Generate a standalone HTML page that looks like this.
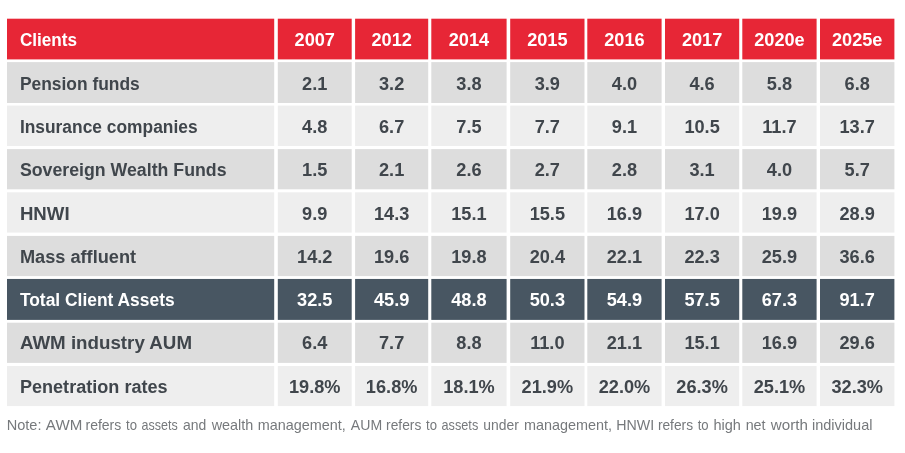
<!DOCTYPE html>
<html lang="en"><head><meta charset="utf-8">
<title>Client assets table</title>
<style>
html,body{margin:0;padding:0;background:#fff;}
body{width:905px;height:453px;overflow:hidden;}
svg{display:block;will-change:transform;}
text{font-family:"Liberation Sans",sans-serif;}
.b{font-weight:700;font-size:18.0px;}
.n{font-weight:400;font-size:14.5px;fill:#76797c;}
</style></head><body>
<svg width="905" height="453" viewBox="0 0 905 453">
<rect x="0" y="0" width="905" height="453" fill="#ffffff"/>
<g fill="#e72636">
<rect x="7.00" y="18.70" width="267.20" height="40.70"/>
<rect x="277.80" y="18.70" width="73.90" height="40.70"/>
<rect x="355.10" y="18.70" width="73.10" height="40.70"/>
<rect x="431.30" y="18.70" width="75.30" height="40.70"/>
<rect x="510.20" y="18.70" width="74.30" height="40.70"/>
<rect x="587.30" y="18.70" width="74.30" height="40.70"/>
<rect x="665.00" y="18.70" width="74.20" height="40.70"/>
<rect x="742.30" y="18.70" width="74.30" height="40.70"/>
<rect x="820.00" y="18.70" width="74.40" height="40.70"/>
</g>
<g fill="#dddddd">
<rect x="7.00" y="62.10" width="267.20" height="40.90"/>
<rect x="277.80" y="62.10" width="73.90" height="40.90"/>
<rect x="355.10" y="62.10" width="73.10" height="40.90"/>
<rect x="431.30" y="62.10" width="75.30" height="40.90"/>
<rect x="510.20" y="62.10" width="74.30" height="40.90"/>
<rect x="587.30" y="62.10" width="74.30" height="40.90"/>
<rect x="665.00" y="62.10" width="74.20" height="40.90"/>
<rect x="742.30" y="62.10" width="74.30" height="40.90"/>
<rect x="820.00" y="62.10" width="74.40" height="40.90"/>
</g>
<g fill="#eeeeee">
<rect x="7.00" y="105.60" width="267.20" height="40.40"/>
<rect x="277.80" y="105.60" width="73.90" height="40.40"/>
<rect x="355.10" y="105.60" width="73.10" height="40.40"/>
<rect x="431.30" y="105.60" width="75.30" height="40.40"/>
<rect x="510.20" y="105.60" width="74.30" height="40.40"/>
<rect x="587.30" y="105.60" width="74.30" height="40.40"/>
<rect x="665.00" y="105.60" width="74.20" height="40.40"/>
<rect x="742.30" y="105.60" width="74.30" height="40.40"/>
<rect x="820.00" y="105.60" width="74.40" height="40.40"/>
</g>
<g fill="#dddddd">
<rect x="7.00" y="149.10" width="267.20" height="40.20"/>
<rect x="277.80" y="149.10" width="73.90" height="40.20"/>
<rect x="355.10" y="149.10" width="73.10" height="40.20"/>
<rect x="431.30" y="149.10" width="75.30" height="40.20"/>
<rect x="510.20" y="149.10" width="74.30" height="40.20"/>
<rect x="587.30" y="149.10" width="74.30" height="40.20"/>
<rect x="665.00" y="149.10" width="74.20" height="40.20"/>
<rect x="742.30" y="149.10" width="74.30" height="40.20"/>
<rect x="820.00" y="149.10" width="74.40" height="40.20"/>
</g>
<g fill="#eeeeee">
<rect x="7.00" y="192.30" width="267.20" height="40.30"/>
<rect x="277.80" y="192.30" width="73.90" height="40.30"/>
<rect x="355.10" y="192.30" width="73.10" height="40.30"/>
<rect x="431.30" y="192.30" width="75.30" height="40.30"/>
<rect x="510.20" y="192.30" width="74.30" height="40.30"/>
<rect x="587.30" y="192.30" width="74.30" height="40.30"/>
<rect x="665.00" y="192.30" width="74.20" height="40.30"/>
<rect x="742.30" y="192.30" width="74.30" height="40.30"/>
<rect x="820.00" y="192.30" width="74.40" height="40.30"/>
</g>
<g fill="#dddddd">
<rect x="7.00" y="235.90" width="267.20" height="40.20"/>
<rect x="277.80" y="235.90" width="73.90" height="40.20"/>
<rect x="355.10" y="235.90" width="73.10" height="40.20"/>
<rect x="431.30" y="235.90" width="75.30" height="40.20"/>
<rect x="510.20" y="235.90" width="74.30" height="40.20"/>
<rect x="587.30" y="235.90" width="74.30" height="40.20"/>
<rect x="665.00" y="235.90" width="74.20" height="40.20"/>
<rect x="742.30" y="235.90" width="74.30" height="40.20"/>
<rect x="820.00" y="235.90" width="74.40" height="40.20"/>
</g>
<g fill="#485662">
<rect x="7.00" y="278.95" width="267.20" height="40.95"/>
<rect x="277.80" y="278.95" width="73.90" height="40.95"/>
<rect x="355.10" y="278.95" width="73.10" height="40.95"/>
<rect x="431.30" y="278.95" width="75.30" height="40.95"/>
<rect x="510.20" y="278.95" width="74.30" height="40.95"/>
<rect x="587.30" y="278.95" width="74.30" height="40.95"/>
<rect x="665.00" y="278.95" width="74.20" height="40.95"/>
<rect x="742.30" y="278.95" width="74.30" height="40.95"/>
<rect x="820.00" y="278.95" width="74.40" height="40.95"/>
</g>
<g fill="#dddddd">
<rect x="7.00" y="322.70" width="267.20" height="40.20"/>
<rect x="277.80" y="322.70" width="73.90" height="40.20"/>
<rect x="355.10" y="322.70" width="73.10" height="40.20"/>
<rect x="431.30" y="322.70" width="75.30" height="40.20"/>
<rect x="510.20" y="322.70" width="74.30" height="40.20"/>
<rect x="587.30" y="322.70" width="74.30" height="40.20"/>
<rect x="665.00" y="322.70" width="74.20" height="40.20"/>
<rect x="742.30" y="322.70" width="74.30" height="40.20"/>
<rect x="820.00" y="322.70" width="74.40" height="40.20"/>
</g>
<g fill="#eeeeee">
<rect x="7.00" y="366.00" width="267.20" height="40.10"/>
<rect x="277.80" y="366.00" width="73.90" height="40.10"/>
<rect x="355.10" y="366.00" width="73.10" height="40.10"/>
<rect x="431.30" y="366.00" width="75.30" height="40.10"/>
<rect x="510.20" y="366.00" width="74.30" height="40.10"/>
<rect x="587.30" y="366.00" width="74.30" height="40.10"/>
<rect x="665.00" y="366.00" width="74.20" height="40.10"/>
<rect x="742.30" y="366.00" width="74.30" height="40.10"/>
<rect x="820.00" y="366.00" width="74.40" height="40.10"/>
</g>
<g class="b" fill="#ffffff">
<text x="19.9" y="46.45" textLength="57.21" lengthAdjust="spacingAndGlyphs">Clients</text>
<text x="314.75" y="46.45" text-anchor="middle" textLength="40.45" lengthAdjust="spacingAndGlyphs">2007</text>
<text x="391.65" y="46.45" text-anchor="middle" textLength="40.45" lengthAdjust="spacingAndGlyphs">2012</text>
<text x="468.95" y="46.45" text-anchor="middle" textLength="40.45" lengthAdjust="spacingAndGlyphs">2014</text>
<text x="547.35" y="46.45" text-anchor="middle" textLength="40.45" lengthAdjust="spacingAndGlyphs">2015</text>
<text x="624.45" y="46.45" text-anchor="middle" textLength="40.45" lengthAdjust="spacingAndGlyphs">2016</text>
<text x="702.10" y="46.45" text-anchor="middle" textLength="40.45" lengthAdjust="spacingAndGlyphs">2017</text>
<text x="779.45" y="46.45" text-anchor="middle" textLength="50.56" lengthAdjust="spacingAndGlyphs">2020e</text>
<text x="857.20" y="46.45" text-anchor="middle" textLength="50.56" lengthAdjust="spacingAndGlyphs">2025e</text>
</g>
<g class="b" fill="#40464c">
<text x="19.9" y="89.74" textLength="119.88" lengthAdjust="spacingAndGlyphs">Pension funds</text>
<text x="314.75" y="89.74" text-anchor="middle" textLength="25.28" lengthAdjust="spacingAndGlyphs">2.1</text>
<text x="391.65" y="89.74" text-anchor="middle" textLength="25.28" lengthAdjust="spacingAndGlyphs">3.2</text>
<text x="468.95" y="89.74" text-anchor="middle" textLength="25.28" lengthAdjust="spacingAndGlyphs">3.8</text>
<text x="547.35" y="89.74" text-anchor="middle" textLength="25.28" lengthAdjust="spacingAndGlyphs">3.9</text>
<text x="624.45" y="89.74" text-anchor="middle" textLength="25.28" lengthAdjust="spacingAndGlyphs">4.0</text>
<text x="702.10" y="89.74" text-anchor="middle" textLength="25.28" lengthAdjust="spacingAndGlyphs">4.6</text>
<text x="779.45" y="89.74" text-anchor="middle" textLength="25.28" lengthAdjust="spacingAndGlyphs">5.8</text>
<text x="857.20" y="89.74" text-anchor="middle" textLength="25.28" lengthAdjust="spacingAndGlyphs">6.8</text>
</g>
<g class="b" fill="#40464c">
<text x="19.9" y="133.03" textLength="177.67" lengthAdjust="spacingAndGlyphs">Insurance companies</text>
<text x="314.75" y="133.03" text-anchor="middle" textLength="25.28" lengthAdjust="spacingAndGlyphs">4.8</text>
<text x="391.65" y="133.03" text-anchor="middle" textLength="25.28" lengthAdjust="spacingAndGlyphs">6.7</text>
<text x="468.95" y="133.03" text-anchor="middle" textLength="25.28" lengthAdjust="spacingAndGlyphs">7.5</text>
<text x="547.35" y="133.03" text-anchor="middle" textLength="25.28" lengthAdjust="spacingAndGlyphs">7.7</text>
<text x="624.45" y="133.03" text-anchor="middle" textLength="25.28" lengthAdjust="spacingAndGlyphs">9.1</text>
<text x="702.10" y="133.03" text-anchor="middle" textLength="35.40" lengthAdjust="spacingAndGlyphs">10.5</text>
<text x="779.45" y="133.03" text-anchor="middle" textLength="34.39" lengthAdjust="spacingAndGlyphs">11.7</text>
<text x="857.20" y="133.03" text-anchor="middle" textLength="35.40" lengthAdjust="spacingAndGlyphs">13.7</text>
</g>
<g class="b" fill="#40464c">
<text x="19.9" y="176.32" textLength="206.64" lengthAdjust="spacingAndGlyphs">Sovereign Wealth Funds</text>
<text x="314.75" y="176.32" text-anchor="middle" textLength="25.28" lengthAdjust="spacingAndGlyphs">1.5</text>
<text x="391.65" y="176.32" text-anchor="middle" textLength="25.28" lengthAdjust="spacingAndGlyphs">2.1</text>
<text x="468.95" y="176.32" text-anchor="middle" textLength="25.28" lengthAdjust="spacingAndGlyphs">2.6</text>
<text x="547.35" y="176.32" text-anchor="middle" textLength="25.28" lengthAdjust="spacingAndGlyphs">2.7</text>
<text x="624.45" y="176.32" text-anchor="middle" textLength="25.28" lengthAdjust="spacingAndGlyphs">2.8</text>
<text x="702.10" y="176.32" text-anchor="middle" textLength="25.28" lengthAdjust="spacingAndGlyphs">3.1</text>
<text x="779.45" y="176.32" text-anchor="middle" textLength="25.28" lengthAdjust="spacingAndGlyphs">4.0</text>
<text x="857.20" y="176.32" text-anchor="middle" textLength="25.28" lengthAdjust="spacingAndGlyphs">5.7</text>
</g>
<g class="b" fill="#40464c">
<text x="19.9" y="219.61" textLength="49.69" lengthAdjust="spacingAndGlyphs">HNWI</text>
<text x="314.75" y="219.61" text-anchor="middle" textLength="25.28" lengthAdjust="spacingAndGlyphs">9.9</text>
<text x="391.65" y="219.61" text-anchor="middle" textLength="35.40" lengthAdjust="spacingAndGlyphs">14.3</text>
<text x="468.95" y="219.61" text-anchor="middle" textLength="35.40" lengthAdjust="spacingAndGlyphs">15.1</text>
<text x="547.35" y="219.61" text-anchor="middle" textLength="35.40" lengthAdjust="spacingAndGlyphs">15.5</text>
<text x="624.45" y="219.61" text-anchor="middle" textLength="35.40" lengthAdjust="spacingAndGlyphs">16.9</text>
<text x="702.10" y="219.61" text-anchor="middle" textLength="35.40" lengthAdjust="spacingAndGlyphs">17.0</text>
<text x="779.45" y="219.61" text-anchor="middle" textLength="35.40" lengthAdjust="spacingAndGlyphs">19.9</text>
<text x="857.20" y="219.61" text-anchor="middle" textLength="35.40" lengthAdjust="spacingAndGlyphs">28.9</text>
</g>
<g class="b" fill="#40464c">
<text x="19.9" y="262.90" textLength="116.24" lengthAdjust="spacingAndGlyphs">Mass affluent</text>
<text x="314.75" y="262.90" text-anchor="middle" textLength="35.40" lengthAdjust="spacingAndGlyphs">14.2</text>
<text x="391.65" y="262.90" text-anchor="middle" textLength="35.40" lengthAdjust="spacingAndGlyphs">19.6</text>
<text x="468.95" y="262.90" text-anchor="middle" textLength="35.40" lengthAdjust="spacingAndGlyphs">19.8</text>
<text x="547.35" y="262.90" text-anchor="middle" textLength="35.40" lengthAdjust="spacingAndGlyphs">20.4</text>
<text x="624.45" y="262.90" text-anchor="middle" textLength="35.40" lengthAdjust="spacingAndGlyphs">22.1</text>
<text x="702.10" y="262.90" text-anchor="middle" textLength="35.40" lengthAdjust="spacingAndGlyphs">22.3</text>
<text x="779.45" y="262.90" text-anchor="middle" textLength="35.40" lengthAdjust="spacingAndGlyphs">25.9</text>
<text x="857.20" y="262.90" text-anchor="middle" textLength="35.40" lengthAdjust="spacingAndGlyphs">36.6</text>
</g>
<g class="b" fill="#ffffff">
<text x="19.9" y="306.19" textLength="154.71" lengthAdjust="spacingAndGlyphs">Total Client Assets</text>
<text x="314.75" y="306.19" text-anchor="middle" textLength="35.40" lengthAdjust="spacingAndGlyphs">32.5</text>
<text x="391.65" y="306.19" text-anchor="middle" textLength="35.40" lengthAdjust="spacingAndGlyphs">45.9</text>
<text x="468.95" y="306.19" text-anchor="middle" textLength="35.40" lengthAdjust="spacingAndGlyphs">48.8</text>
<text x="547.35" y="306.19" text-anchor="middle" textLength="35.40" lengthAdjust="spacingAndGlyphs">50.3</text>
<text x="624.45" y="306.19" text-anchor="middle" textLength="35.40" lengthAdjust="spacingAndGlyphs">54.9</text>
<text x="702.10" y="306.19" text-anchor="middle" textLength="35.40" lengthAdjust="spacingAndGlyphs">57.5</text>
<text x="779.45" y="306.19" text-anchor="middle" textLength="35.40" lengthAdjust="spacingAndGlyphs">67.3</text>
<text x="857.20" y="306.19" text-anchor="middle" textLength="35.40" lengthAdjust="spacingAndGlyphs">91.7</text>
</g>
<g class="b" fill="#40464c">
<text x="19.9" y="349.48" textLength="172.12" lengthAdjust="spacingAndGlyphs">AWM industry AUM</text>
<text x="314.75" y="349.48" text-anchor="middle" textLength="25.28" lengthAdjust="spacingAndGlyphs">6.4</text>
<text x="391.65" y="349.48" text-anchor="middle" textLength="25.28" lengthAdjust="spacingAndGlyphs">7.7</text>
<text x="468.95" y="349.48" text-anchor="middle" textLength="25.28" lengthAdjust="spacingAndGlyphs">8.8</text>
<text x="547.35" y="349.48" text-anchor="middle" textLength="34.39" lengthAdjust="spacingAndGlyphs">11.0</text>
<text x="624.45" y="349.48" text-anchor="middle" textLength="35.40" lengthAdjust="spacingAndGlyphs">21.1</text>
<text x="702.10" y="349.48" text-anchor="middle" textLength="35.40" lengthAdjust="spacingAndGlyphs">15.1</text>
<text x="779.45" y="349.48" text-anchor="middle" textLength="35.40" lengthAdjust="spacingAndGlyphs">16.9</text>
<text x="857.20" y="349.48" text-anchor="middle" textLength="35.40" lengthAdjust="spacingAndGlyphs">29.6</text>
</g>
<g class="b" fill="#40464c">
<text x="19.9" y="392.77" textLength="147.75" lengthAdjust="spacingAndGlyphs">Penetration rates</text>
<text x="314.75" y="392.77" text-anchor="middle" textLength="51.56" lengthAdjust="spacingAndGlyphs">19.8%</text>
<text x="391.65" y="392.77" text-anchor="middle" textLength="51.56" lengthAdjust="spacingAndGlyphs">16.8%</text>
<text x="468.95" y="392.77" text-anchor="middle" textLength="51.56" lengthAdjust="spacingAndGlyphs">18.1%</text>
<text x="547.35" y="392.77" text-anchor="middle" textLength="51.56" lengthAdjust="spacingAndGlyphs">21.9%</text>
<text x="624.45" y="392.77" text-anchor="middle" textLength="51.56" lengthAdjust="spacingAndGlyphs">22.0%</text>
<text x="702.10" y="392.77" text-anchor="middle" textLength="51.56" lengthAdjust="spacingAndGlyphs">26.3%</text>
<text x="779.45" y="392.77" text-anchor="middle" textLength="51.56" lengthAdjust="spacingAndGlyphs">25.1%</text>
<text x="857.20" y="392.77" text-anchor="middle" textLength="51.56" lengthAdjust="spacingAndGlyphs">32.3%</text>
</g>
<text class="n" x="7.6" y="429.9"><tspan x="6.71" textLength="34.82" lengthAdjust="spacingAndGlyphs">Note:</tspan> <tspan x="45.87" textLength="36.37" lengthAdjust="spacingAndGlyphs">AWM</tspan> <tspan x="85.47" textLength="35.84" lengthAdjust="spacingAndGlyphs">refers</tspan> <tspan x="126.00" textLength="10.95" lengthAdjust="spacingAndGlyphs">to</tspan> <tspan x="141.57" textLength="36.18" lengthAdjust="spacingAndGlyphs">assets</tspan> <tspan x="182.91" textLength="23.29" lengthAdjust="spacingAndGlyphs">and</tspan> <tspan x="211.72" textLength="41.61" lengthAdjust="spacingAndGlyphs">wealth</tspan> <tspan x="257.74" textLength="88.05" lengthAdjust="spacingAndGlyphs">management,</tspan> <tspan x="350.87" textLength="31.28" lengthAdjust="spacingAndGlyphs">AUM</tspan> <tspan x="386.09" textLength="35.21" lengthAdjust="spacingAndGlyphs">refers</tspan> <tspan x="426.00" textLength="10.95" lengthAdjust="spacingAndGlyphs">to</tspan> <tspan x="441.56" textLength="36.70" lengthAdjust="spacingAndGlyphs">assets</tspan> <tspan x="483.30" textLength="35.53" lengthAdjust="spacingAndGlyphs">under</tspan> <tspan x="523.94" textLength="88.05" lengthAdjust="spacingAndGlyphs">management,</tspan> <tspan x="616.24" textLength="37.88" lengthAdjust="spacingAndGlyphs">HNWI</tspan> <tspan x="657.89" textLength="35.21" lengthAdjust="spacingAndGlyphs">refers</tspan> <tspan x="697.70" textLength="10.95" lengthAdjust="spacingAndGlyphs">to</tspan> <tspan x="713.49" textLength="27.45" lengthAdjust="spacingAndGlyphs">high</tspan> <tspan x="745.65" textLength="19.96" lengthAdjust="spacingAndGlyphs">net</tspan> <tspan x="770.82" textLength="37.06" lengthAdjust="spacingAndGlyphs">worth</tspan> <tspan x="811.93" textLength="60.54" lengthAdjust="spacingAndGlyphs">individual</tspan></text>
</svg></body></html>
